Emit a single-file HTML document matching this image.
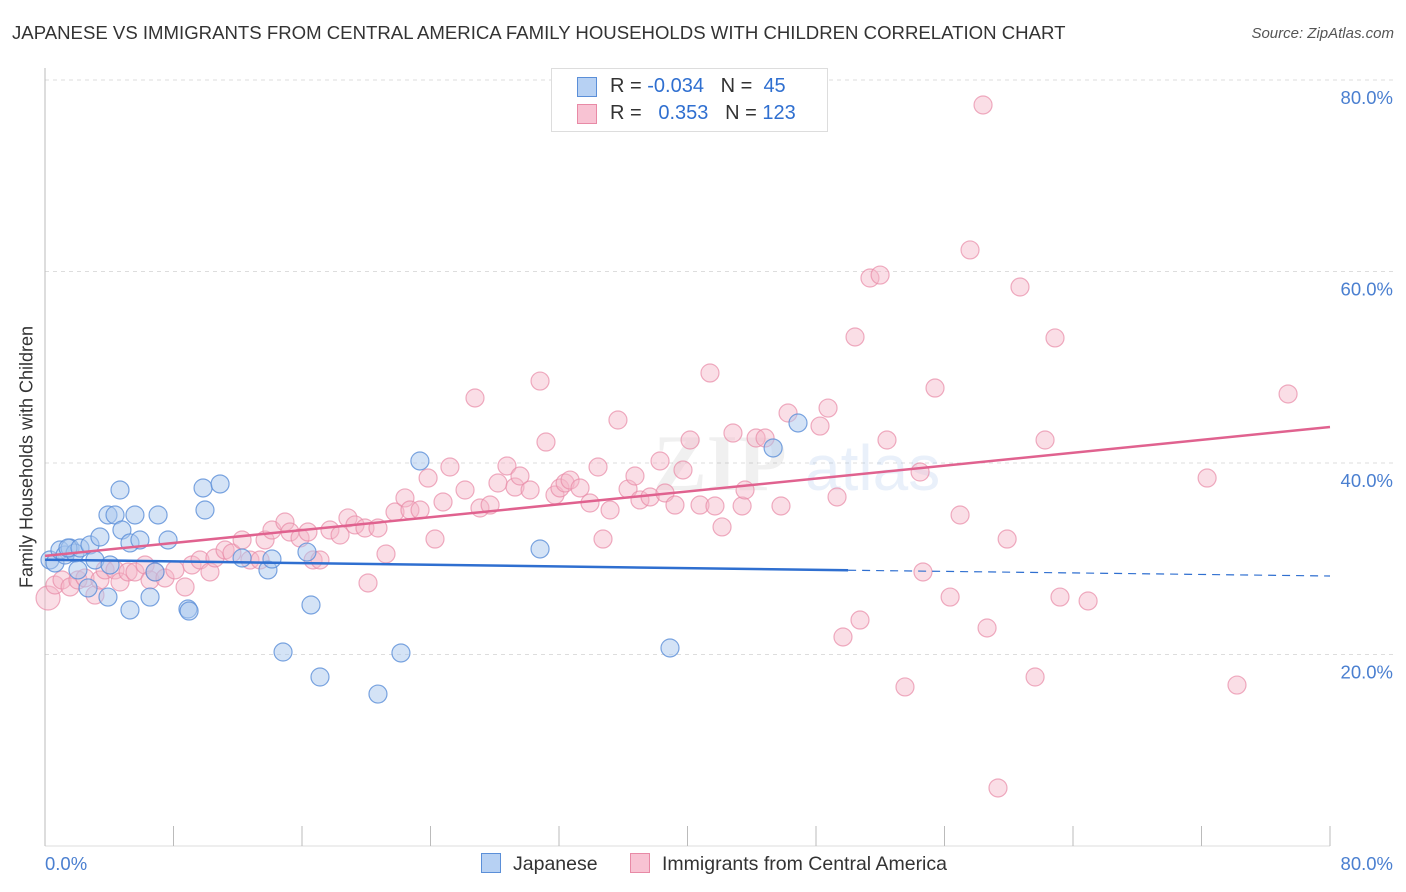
<!DOCTYPE html>
<html><head><meta charset="utf-8"><style>
body{margin:0;background:#fff;font-family:"Liberation Sans",sans-serif}
#wrap{position:relative;width:1406px;height:892px}
.t{position:absolute;white-space:nowrap}
</style></head><body>
<div id="wrap">
<div class="t" style="left:12px;top:22px;font-size:18.6px;color:#333">JAPANESE VS IMMIGRANTS FROM CENTRAL AMERICA FAMILY HOUSEHOLDS WITH CHILDREN CORRELATION CHART</div>
<div class="t" style="right:12px;top:25px;font-size:15px;color:#555;font-style:italic">Source: ZipAtlas.com</div>
<svg id="svg" width="1406" height="892" style="position:absolute;left:0;top:0"></svg>
</div>
<script>
const xTicks=[0,80];
const yTicks=[20,40,60,80];
const jpX=[0.31,0.62,0.93,1.25,1.56,1.87,1.43,2.18,2.8,3.11,3.42,3.92,4.36,4.67,4.79,5.29,5.6,5.91,7.04,7.66,9.96,9.84,10.9,4.05,2.05,2.68,3.92,5.29,6.54,6.85,8.9,8.97,12.27,13.88,14.13,14.82,16.56,17.12,16.31,20.73,22.16,23.34,30.82,38.91,45.33,46.88];
const jpY=[29.87,29.56,30.91,30.39,31.12,30.6,31.12,31.12,31.44,29.87,32.27,34.57,34.57,37.18,33.0,31.65,34.57,31.96,34.57,31.96,35.09,37.39,37.81,29.35,28.83,26.95,26.0,24.65,26.0,28.62,24.75,24.54,30.08,28.83,29.97,20.26,25.17,17.65,30.7,15.87,20.16,40.21,31.02,20.68,41.57,44.18];
const caX=[0.19,0.62,1.06,1.56,2.05,2.49,3.11,3.42,3.74,4.36,4.67,5.17,5.6,6.23,6.54,6.85,7.47,8.09,8.72,9.15,9.65,10.27,10.58,11.21,11.64,12.27,12.76,13.39,13.7,14.13,14.94,15.25,15.88,16.37,16.69,17.12,17.74,18.37,18.86,19.3,19.92,20.11,20.73,21.23,21.79,22.41,22.72,23.35,23.85,24.28,24.78,25.21,26.15,26.77,27.08,27.71,28.2,28.76,29.26,29.57,30.2,30.82,31.19,31.75,32.06,32.38,32.69,33.31,33.93,34.43,34.74,35.18,35.67,36.3,36.73,37.04,37.67,38.29,38.6,39.22,39.72,40.16,40.78,41.4,41.71,42.15,42.83,43.4,43.58,44.27,44.83,45.82,46.26,48.25,48.75,49.31,49.68,50.43,50.74,51.36,51.99,52.42,53.54,54.48,54.66,55.41,56.35,56.97,57.59,58.4,58.65,59.9,60.7,61.64,62.26,62.88,63.19,64.94,72.35,74.21,77.39,59.33];
const caY=[25.9,27.26,27.78,27.05,27.78,27.99,26.21,27.78,28.83,28.83,27.57,28.62,28.62,29.35,27.78,28.62,27.99,28.83,27.05,29.35,29.87,28.62,30.08,30.91,30.6,31.96,29.87,29.87,31.96,33.0,33.84,32.79,32.17,32.79,29.87,29.87,33.0,32.48,34.26,33.53,33.21,27.47,33.21,30.5,34.88,36.35,35.09,35.09,38.43,32.06,35.93,39.58,37.18,46.79,35.3,35.61,37.91,39.69,37.49,38.64,37.18,48.56,42.19,36.66,37.39,37.91,38.22,37.39,35.82,39.58,32.06,35.09,44.49,37.28,38.64,36.14,36.45,40.21,36.87,35.61,39.27,42.4,35.61,49.4,35.51,33.32,43.13,35.51,37.18,42.61,42.61,35.51,45.22,43.86,45.74,36.45,21.83,53.16,23.6,59.32,59.63,42.4,16.61,39.06,28.62,47.83,26.0,34.57,62.25,77.39,22.77,32.06,58.38,17.65,42.4,53.06,26.0,25.59,38.43,16.81,47.21,6.06];
const jpTrend=[[0,29.9],[50,28.8],[80,28.2]];
const caTrend=[[0,30.3],[80,43.76]];
const X0=45,X1=1330,Y0=846,Y1=80;
const sx=v=>X0+(v/80)*(X1-X0);
const sy=v=>Y0-(v/80)*(Y0-Y1);
const svg=document.getElementById('svg');
const NS='http://www.w3.org/2000/svg';
function mk(t,a){const e=document.createElementNS(NS,t);for(const k in a)e.setAttribute(k,a[k]);svg.appendChild(e);return e;}
yTicks.forEach(v=>{const g=mk('line',{x1:X0,x2:1393,y1:sy(v),y2:sy(v),stroke:'#ddd','stroke-dasharray':'4,4'});


const t=mk('text',{x:1393,y:sy(v)+24,'text-anchor':'end','font-size':18.5,fill:'#4a7fd0','font-family':'Liberation Sans'});t.textContent=v.toFixed(1)+'%';

});
const ax=mk('line',{x1:X0,x2:X0,y1:68,y2:Y0,stroke:'#bbb'});


const bx=mk('line',{x1:X0,x2:X1,y1:Y0,y2:Y0,stroke:'#ddd'});


for(let i=0;i<=10;i++){const l=mk('line',{x1:sx(i*8),x2:sx(i*8),y1:826,y2:Y0,stroke:'#bbb'});

}
xTicks.forEach((v,i)=>{const t=mk('text',{x:i==0?45:1393,y:870,'text-anchor':i==0?'start':'end','font-size':18.5,fill:'#4a7fd0','font-family':'Liberation Sans'});t.textContent=v.toFixed(1)+'%';

});
const w=mk('text',{x:720,y:490,'text-anchor':'middle','font-size':80,fill:'#000','fill-opacity':0.06,'font-family':'Liberation Serif','font-weight':'bold'});w.textContent='ZIP';


const w2=mk('text',{x:805,y:490,'font-size':64,fill:'#6b9be0','fill-opacity':0.15,'font-family':'Liberation Sans'});w2.textContent='atlas';


caX.forEach((v,i)=>{const c=mk('circle',{cx:sx(v),cy:sy(caY[i]),r:i==0?12:9,fill:'#f4b6c8','fill-opacity':0.45,stroke:'#e88aa6','stroke-opacity':0.7,'stroke-width':1.2});

});
jpX.forEach((v,i)=>{const c=mk('circle',{cx:sx(v),cy:sy(jpY[i]),r:9,fill:'#a9c8ee','fill-opacity':0.5,stroke:'#5b8fd8','stroke-opacity':0.8,'stroke-width':1.2});

});
const l1=mk('line',{x1:sx(jpTrend[0][0]),y1:sy(jpTrend[0][1]),x2:sx(jpTrend[1][0]),y2:sy(jpTrend[1][1]),stroke:'#2f6fd0','stroke-width':2.5});


const l2=mk('line',{x1:sx(jpTrend[1][0]),y1:sy(jpTrend[1][1]),x2:sx(jpTrend[2][0]),y2:sy(jpTrend[2][1]),stroke:'#2f6fd0','stroke-width':1.2,'stroke-dasharray':'8,6'});


const l3=mk('line',{x1:sx(caTrend[0][0]),y1:sy(caTrend[0][1]),x2:sx(caTrend[1][0]),y2:sy(caTrend[1][1]),stroke:'#e0628f','stroke-width':2.5});


</script>
<div style="position:absolute;left:551px;top:68px;width:275px;height:62px;border:1px solid #ddd;background:#fff;font-size:20px;color:#333">
<div style="position:absolute;left:25px;top:8px;width:18px;height:18px;background:#b7d1f3;border:1px solid #5b8fd8"></div>
<div class="t" style="left:58px;top:6px">R = <span style="color:#2f6fd0">-0.034</span>&nbsp;&nbsp;&nbsp;N = &nbsp;<span style="color:#2f6fd0">45</span></div>
<div style="position:absolute;left:25px;top:35px;width:18px;height:18px;background:#f8c3d3;border:1px solid #e88aa6"></div>
<div class="t" style="left:58px;top:33px">R = &nbsp;&nbsp;<span style="color:#2f6fd0">0.353</span>&nbsp;&nbsp;&nbsp;N = <span style="color:#2f6fd0">123</span></div>
</div>
<div style="position:absolute;left:481px;top:853px;font-size:19.5px;color:#333">
<span style="display:inline-block;width:18px;height:18px;background:#b7d1f3;border:1px solid #5b8fd8;vertical-align:-3px;margin-right:12px"></span>Japanese</div>
<div style="position:absolute;left:630px;top:853px;font-size:19.5px;color:#333">
<span style="display:inline-block;width:18px;height:18px;background:#f8c3d3;border:1px solid #e88aa6;vertical-align:-3px;margin-right:12px"></span>Immigrants from Central America</div>
<div class="t" style="left:27px;top:457px;font-size:18px;color:#333;transform:translate(-50%,-50%) rotate(-90deg)">Family Households with Children</div>
</body></html>
